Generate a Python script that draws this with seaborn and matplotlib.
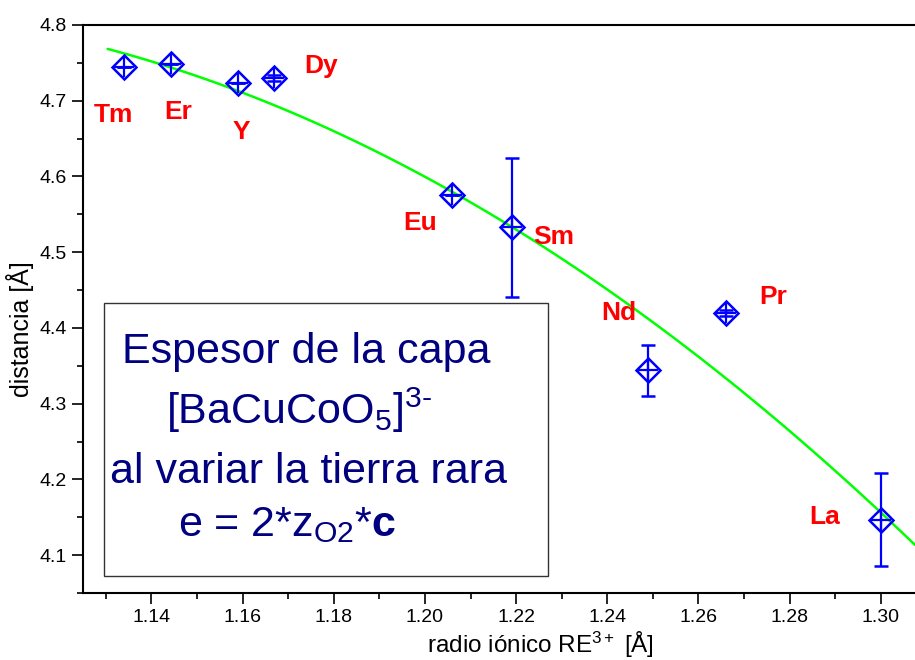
import numpy as np
import pandas as pd
import seaborn as sns
import matplotlib.pyplot as plt
from matplotlib.ticker import MultipleLocator, FormatStrFormatter
from matplotlib.patches import Rectangle

# rare earth ions: ionic radius vs layer thickness
elementos = ['Tm', 'Er', 'Y', 'Dy', 'Eu', 'Sm', 'Nd', 'Pr', 'La']
radio = [1.134, 1.1442, 1.159, 1.167, 1.206, 1.219, 1.249, 1.266, 1.300]
distancia = [4.744, 4.748, 4.723, 4.730, 4.575, 4.533, 4.344, 4.420, 4.147]
error = [0.0, 0.0, 0.0, 0.004, 0.0, 0.092, 0.034, 0.004, 0.061]

# label positions (data coords)
lab_x = [1.1317, 1.1459, 1.1597, 1.1773, 1.199, 1.2283, 1.2426, 1.2763, 1.2877]
lab_y = [4.681, 4.685, 4.659, 4.746, 4.538, 4.520, 4.420, 4.441, 4.151]

# points on the green fit curve
ajuste_x = [1.1304, 1.158, 1.177, 1.2062, 1.2191, 1.234, 1.2472, 1.2794, 1.300, 1.3075]
ajuste_y = [4.770, 4.711, 4.671, 4.578, 4.533, 4.476, 4.421, 4.266, 4.157, 4.113]

sns.set_theme(style='ticks')
plt.rcParams['font.family'] = ['Liberation Sans', 'DejaVu Sans']
plt.rcParams['mathtext.fontset'] = 'custom'
plt.rcParams['mathtext.rm'] = 'Liberation Sans'
plt.rcParams['mathtext.it'] = 'Liberation Sans'
plt.rcParams['mathtext.bf'] = 'Liberation Sans:bold'

fig = plt.figure(figsize=(9.15, 6.6), dpi=100)
ax = fig.add_axes([83 / 915, 67 / 660, 832 / 915, 568 / 660])

# quadratic fit drawn by seaborn through the curve points
curva = pd.DataFrame({'x': ajuste_x, 'y': ajuste_y})
sns.regplot(data=curva, x='x', y='y', order=2, ci=None, scatter=False, truncate=True,
            line_kws={'color': '#00ff00', 'lw': 1.8}, ax=ax)

ax.errorbar(radio, distancia, yerr=error, fmt='D', ms=12.5, mfc='none', mec='#0000ff',
            mew=1.8, ecolor='#0000ff', elinewidth=1.6, capsize=4.7, capthick=1.6, zorder=3)
ax.plot(radio, distancia, '+', ms=14, mew=1.6, color='#0000ff', zorder=3, ls='none')

for e, lx, ly in zip(elementos, lab_x, lab_y):
    ax.text(lx, ly, e, color='#ff0000', fontsize=19, fontweight='bold', ha='center', va='center')

ax.set_xlim(1.125, 1.3075)
ax.set_ylim(4.05, 4.8)
ax.xaxis.set_major_locator(MultipleLocator(0.02))
ax.xaxis.set_minor_locator(MultipleLocator(0.01))
ax.yaxis.set_major_locator(MultipleLocator(0.1))
ax.yaxis.set_minor_locator(MultipleLocator(0.05))
ax.xaxis.set_major_formatter(FormatStrFormatter('%.2f'))
ax.yaxis.set_major_formatter(FormatStrFormatter('%.1f'))
ax.tick_params(which='major', length=8, width=1.2, labelsize=14, color='black', labelcolor='black')
ax.tick_params(which='minor', length=4.5, width=1.2, color='black')
for s in ['left', 'bottom', 'top']:
    ax.spines[s].set_linewidth(1.5)
    ax.spines[s].set_color('black')
ax.spines['right'].set_visible(False)

ax.set_xlabel('radio iónico RE$^{3+}$ [Å]', fontsize=17.5, color='black')
ax.xaxis.set_label_coords((540 - 83) / 832, -(630 - 593) / 568)
ax.set_ylabel('distancia [Å]', fontsize=18, color='black')
ax.yaxis.set_label_coords(-(83 - 34) / 832, (593 - 329) / 568)

# info box
fy = lambda py: (593 - py) / 568
fx = lambda px: (px - 83) / 832
ax.add_patch(Rectangle((fx(104), fy(576)), 444 / 832, 273 / 568,
                       transform=ax.transAxes, fill=False, ec='#333333', lw=1.0, zorder=4))
azul = '#000080'
ax.text(fx(306), fy(352), 'Espesor de la capa', transform=ax.transAxes, fontsize=31,
        color=azul, ha='center', va='center')
ax.text(fx(299), fy(410), '[BaCuCoO$_5$]$^{3\\text{-}}$', transform=ax.transAxes, fontsize=31,
        color=azul, ha='center', va='center')
ax.text(fx(308), fy(472), 'al variar la tierra rara', transform=ax.transAxes, fontsize=31,
        color=azul, ha='center', va='center')
ax.text(fx(287), fy(525), 'e = 2*z$_{\\mathrm{O2}}$*$\\mathbf{c}$', transform=ax.transAxes, fontsize=31,
        color=azul, ha='center', va='center')

fig.savefig('out.png', dpi=100)
